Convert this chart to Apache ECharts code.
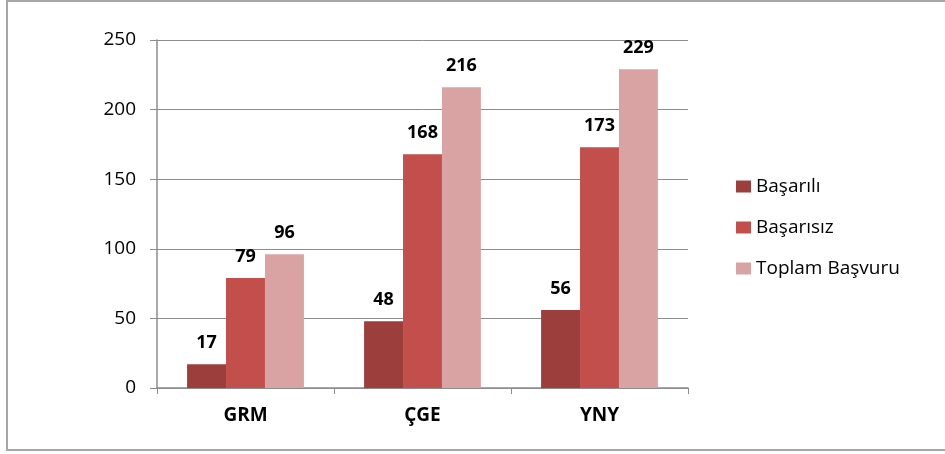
<!DOCTYPE html>
<html>
<head>
<meta charset="utf-8">
<script src="https://cdn.jsdelivr.net/npm/echarts@6/dist/echarts.min.js"></script>
<style>
  html, body { margin: 0; padding: 0; background: #fff; }
  #frame { position: absolute; left: 6px; top: 0; width: 940px; height: 451px; box-sizing: border-box; border: 2px solid #a6a6a6; border-right: none; }
  #chart { position: absolute; left: 0; top: 0; width: 945px; height: 454px; }
</style>
</head>
<body>
<div id="frame"></div>
<div id="chart"></div>
<script>
  const categories = ['GRM', 'ÇGE', 'YNY']
  const seriesNames = ['Başarılı', 'Başarısız', 'Toplam Başvuru']
  const basarili = [17, 48, 56]
  const basarisiz = [79, 168, 173]
  const toplam = [96, 216, 229]
  const colors = ['#9c3e3c', '#c24f4c', '#d9a3a3']

  const chart = echarts.init(document.getElementById('chart'))
  const font = '"Open Sans", "Noto Sans", sans-serif'

  // 柱子系列
  const series = [basarili, basarisiz, toplam].map((data, i) => ({
    name: seriesNames[i],
    type: 'bar',
    data: data,
    barGap: '0%',
    barCategoryGap: '34%',
    itemStyle: { color: colors[i] },
    label: {
      show: true,
      position: 'top',
      distance: 12,
      color: '#000',
      fontFamily: font,
      fontWeight: 'bold',
      fontSize: 18
    }
  }))

  const option = {
    animation: false,
    textStyle: { fontFamily: font },
    grid: { left: 157, right: 257, top: 40, bottom: 66 },
    legend: {
      orient: 'vertical',
      left: 731,
      top: 172,
      itemWidth: 15,
      itemHeight: 12,
      itemGap: 22,
      icon: 'rect',
      textStyle: { fontSize: 19, color: '#000', fontFamily: font },
      data: seriesNames
    },
    xAxis: {
      type: 'category',
      data: categories,
      axisLine: { lineStyle: { color: '#8c8c8c', width: 1.5 } },
      axisTick: { show: true, length: 6, inside: false, lineStyle: { color: '#8c8c8c' } },
      axisLabel: { color: '#000', fontWeight: 'bold', fontSize: 19, margin: 18, fontFamily: font }
    },
    yAxis: {
      type: 'value',
      min: 0,
      max: 250,
      interval: 50,
      axisLine: { show: true, lineStyle: { color: '#8c8c8c', width: 1.5 } },
      axisTick: { show: true, length: 7, lineStyle: { color: '#8c8c8c' } },
      axisLabel: { color: '#000', fontSize: 19, margin: 21, fontFamily: font },
      splitLine: { lineStyle: { color: '#8c8c8c', width: 1 } }
    },
    series: series
  }

  chart.setOption(option)
</script>
</body>
</html>
